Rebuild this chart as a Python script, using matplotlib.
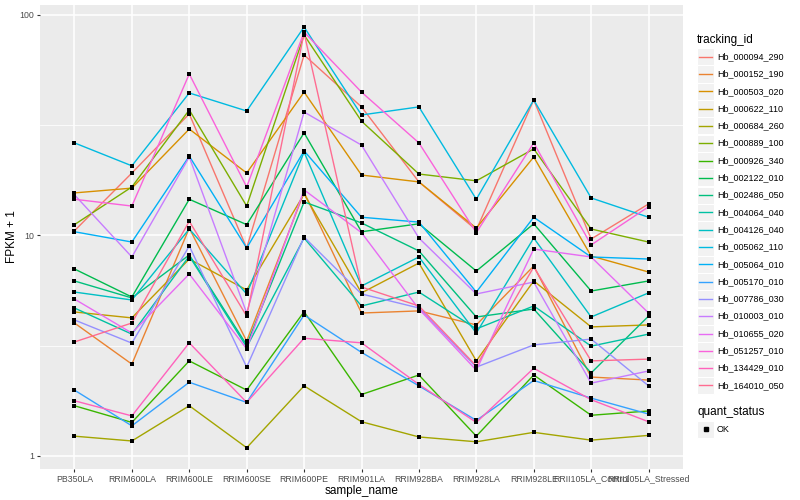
import matplotlib
matplotlib.use("Agg")
import matplotlib.pyplot as plt
from matplotlib.patches import Rectangle
from matplotlib.lines import Line2D

plt.rcParams['font.family'] = ['Liberation Sans', 'DejaVu Sans']

samples = ["PB350LA", "RRIM600LA", "RRIM600LE", "RRIM600SE", "RRIM600PE",
           "RRIM901LA", "RRIM928BA", "RRIM928LA", "RRIM928LE",
           "RRII105LA_Control", "RRII105LA_Stressed"]

tracking_ids = ["Hb_000094_290", "Hb_000152_190", "Hb_000503_020", "Hb_000622_110",
                "Hb_000684_260", "Hb_000889_100", "Hb_000926_340", "Hb_002122_010",
                "Hb_002486_050", "Hb_004064_040", "Hb_004126_040", "Hb_005062_110",
                "Hb_005064_010", "Hb_005170_010", "Hb_007786_030", "Hb_010003_010",
                "Hb_010655_020", "Hb_051257_010", "Hb_134429_010", "Hb_164010_050"]

# ggplot hue palette, 20 levels
colors = ["#F8766D", "#EA8331", "#D89000", "#C09B00", "#A3A500", "#7CAE00", "#39B600",
          "#00BB4E", "#00BF7D", "#00C1A3", "#00BFC4", "#00BAE0", "#00B0F6", "#35A2FF",
          "#9590FF", "#C77CFF", "#E76BF3", "#FA62DB", "#FF62BC", "#FF6C91"]

# FPKM + 1 per sample
fpkm = {
    "Hb_000094_290": [10.5, 19.2, 35.6, 8.77, 65.9, 38.3, 17.5, 10.6, 41.2, 9.64, 13.9],
    "Hb_000152_190": [4.01, 2.61, 10.8, 3.32, 15.7, 4.45, 4.55, 3.93, 7.27, 2.28, 2.21],
    "Hb_000503_020": [15.6, 16.4, 30.4, 19.2, 44.7, 18.8, 17.5, 10.8, 22.7, 8.07, 6.83],
    "Hb_000622_110": [4.50, 4.23, 7.82, 5.66, 15.4, 5.49, 7.50, 2.70, 6.22, 3.85, 3.93],
    "Hb_000684_260": [1.23, 1.17, 1.69, 1.09, 2.08, 1.43, 1.22, 1.16, 1.28, 1.18, 1.24],
    "Hb_000889_100": [11.2, 16.6, 37.1, 13.6, 81.2, 33.0, 19.0, 17.7, 24.7, 10.7, 9.34],
    "Hb_000926_340": [1.69, 1.42, 2.70, 1.99, 4.51, 1.90, 2.33, 1.23, 2.33, 1.53, 1.60],
    "Hb_002122_010": [7.05, 5.26, 14.6, 11.2, 29.2, 10.4, 11.3, 6.90, 11.3, 5.60, 6.22],
    "Hb_002486_050": [6.22, 5.21, 8.16, 3.19, 14.2, 11.4, 8.51, 4.27, 4.64, 2.38, 4.31],
    "Hb_004064_040": [4.69, 3.57, 8.07, 3.12, 9.74, 4.79, 5.54, 3.77, 4.79, 3.15, 3.57],
    "Hb_004126_040": [5.54, 5.10, 10.7, 5.43, 23.9, 5.90, 7.99, 3.61, 9.74, 4.27, 5.49],
    "Hb_005062_110": [26.3, 20.7, 44.3, 36.7, 88.2, 35.2, 38.3, 14.6, 41.2, 14.8, 12.1],
    "Hb_005064_010": [10.4, 9.34, 22.9, 8.77, 24.2, 12.1, 11.5, 5.54, 12.1, 7.99, 7.82],
    "Hb_005170_010": [1.99, 1.37, 2.16, 1.75, 4.36, 2.95, 2.08, 1.45, 2.20, 1.83, 1.55],
    "Hb_007786_030": [4.14, 3.25, 8.96, 2.53, 9.84, 5.43, 4.69, 2.53, 3.19, 3.39, 2.08],
    "Hb_010003_010": [15.3, 7.99, 22.7, 4.45, 36.3, 25.7, 9.74, 5.43, 6.15, 2.14, 2.43],
    "Hb_010655_020": [5.15, 3.61, 6.69, 3.06, 16.1, 10.3, 4.64, 2.45, 8.68, 7.99, 4.45],
    "Hb_051257_010": [14.6, 13.6, 54.0, 16.6, 83.7, 44.7, 26.3, 10.3, 26.3, 9.06, 13.5],
    "Hb_134429_010": [1.78, 1.52, 3.26, 1.75, 3.42, 3.26, 2.11, 1.42, 2.50, 1.80, 1.43],
    "Hb_164010_050": [3.29, 4.01, 11.6, 4.31, 82.9, 5.84, 4.79, 2.56, 7.20, 2.70, 2.75],
}

W, H = 800, 500
fig = plt.figure(figsize=(8, 5), dpi=100)
ax = fig.add_axes([40 / W, 1 - 469 / H, (683 - 40) / W, (469 - 5) / H])
ax.set_facecolor('#EBEBEB')
for s in ax.spines.values():
    s.set_visible(False)

x = list(range(len(samples)))
for tid, col in zip(tracking_ids, colors):
    ax.plot(x, fpkm[tid], color=col, lw=1.0, zorder=2)
for tid in tracking_ids:
    ax.scatter(x, fpkm[tid], color='black', s=12, marker='s', zorder=3, linewidths=0)

ax.set_yscale('log')
ax.set_ylim(0.873, 111)
ax.set_xlim(-0.6, 10.6)
ax.set_yticks([1, 10, 100], labels=['1', '10', '100'])
ax.set_yticks([10 ** 0.5, 10 ** 1.5], minor=True)
ax.set_yticklabels([], minor=True)
ax.set_xticks(x, labels=samples)
ax.set_axisbelow(True)
ax.grid(which='major', color='white', lw=1.1)
ax.grid(which='minor', axis='y', color='white', lw=0.55)
ax.tick_params(which='major', length=2.5, width=0.8, color='#333333',
               labelsize=6.3, labelcolor='#4D4D4D', pad=1.5)
ax.tick_params(which='minor', length=0)
ax.set_xlabel("sample_name", fontsize=8.5, labelpad=1)
ax.set_ylabel("FPKM + 1", fontsize=8.5, va='center')
ax.yaxis.set_label_coords(-0.044, 0.5)


def fx(px):
    return px / W


def fy(py):
    return 1 - py / H


# legend: tracking_id
fig.text(fx(697), fy(40), "tracking_id", fontsize=8.5, va='center', ha='left')
for i, (tid, col) in enumerate(zip(tracking_ids, colors)):
    cy = 56.7 + i * 17.3
    fig.patches.append(Rectangle((fx(697), fy(cy + 8.5)), 17 / W, 17 / H,
                                 transform=fig.transFigure, facecolor='#F2F2F2',
                                 edgecolor='white', lw=0.8))
    fig.lines.append(Line2D([fx(699), fx(712)], [fy(cy), fy(cy)],
                            transform=fig.transFigure, color=col, lw=1.0))
    fig.text(fx(717), fy(cy), tid, fontsize=6.5, va='center', ha='left')

# legend: quant_status
fig.text(fx(697), fy(412), "quant_status", fontsize=8.5, va='center', ha='left')
fig.patches.append(Rectangle((fx(697), fy(429 + 8.5)), 17 / W, 17 / H,
                             transform=fig.transFigure, facecolor='#F2F2F2',
                             edgecolor='white', lw=0.8))
fig.lines.append(Line2D([fx(705.5)], [fy(429)], transform=fig.transFigure,
                        color='black', marker='s', ms=3, lw=0))
fig.text(fx(717), fy(429), "OK", fontsize=6.5, va='center', ha='left')

fig.savefig("out.png", dpi=100)
